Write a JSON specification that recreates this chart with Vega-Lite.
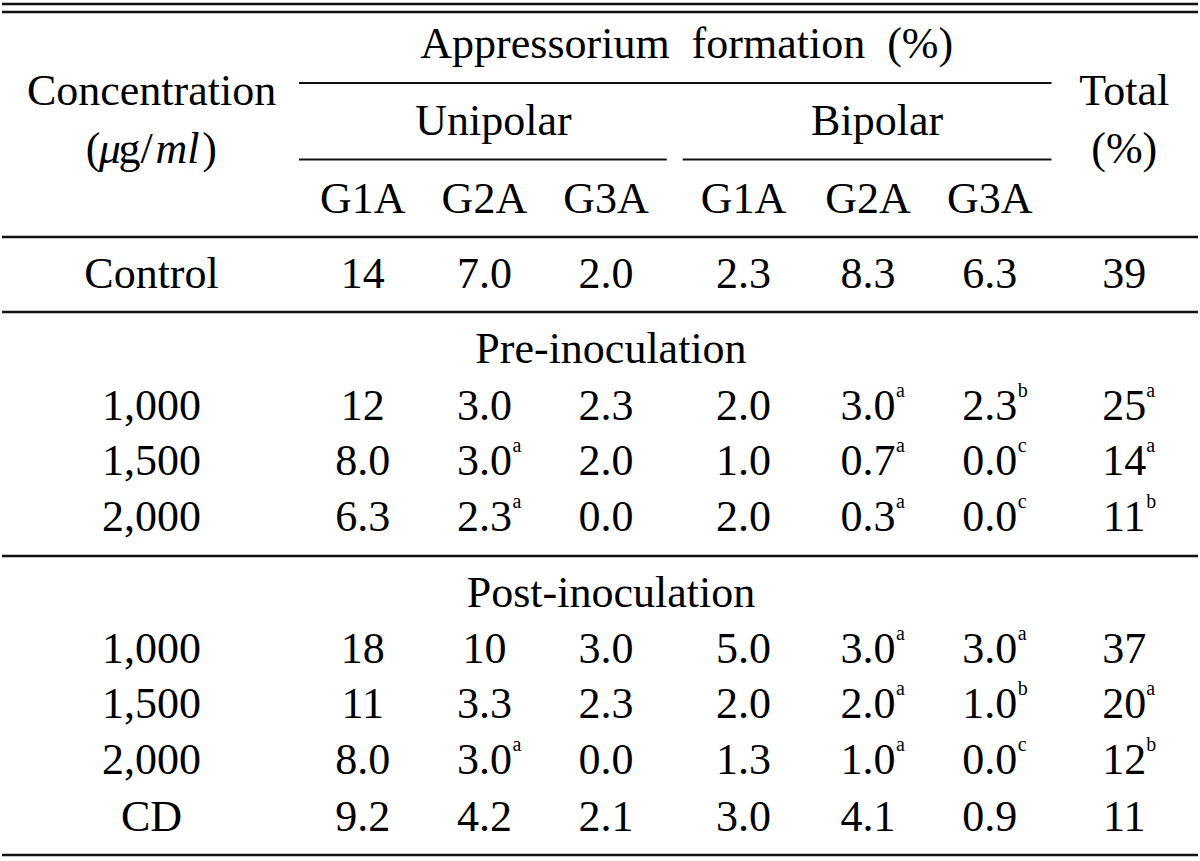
{
  "$schema": "https://vega.github.io/schema/vega-lite/v6.json",
  "width": 1200,
  "height": 861,
  "autosize": {"type": "fit", "contains": "padding"},
  "padding": 0,
  "background": "white",
  "config": {
    "view": {"stroke": null},
    "text": {"font": "Liberation Serif, Times New Roman, Times, serif", "fontSize": 44, "color": "#000", "baseline": "alphabetic"}
  },
  "datasets": {
    "rowpos": [
      {"r": "hdr1", "y": 58},
      {"r": "hdr_conc", "y": 105},
      {"r": "hdr2", "y": 135},
      {"r": "hdr_unit", "y": 163},
      {"r": "hdr3", "y": 213},
      {"r": "ctrl", "y": 288},
      {"r": "pre", "y": 363},
      {"r": "p1", "y": 420},
      {"r": "p2", "y": 475},
      {"r": "p3", "y": 531},
      {"r": "post", "y": 607},
      {"r": "q1", "y": 663},
      {"r": "q2", "y": 718},
      {"r": "q3", "y": 774},
      {"r": "cd", "y": 831}
    ],
    "colpos": [
      {"c": "lab", "x": 150},
      {"c": "U1", "x": 362},
      {"c": "U2", "x": 484},
      {"c": "U3", "x": 606},
      {"c": "B1", "x": 744},
      {"c": "B2", "x": 869},
      {"c": "B3", "x": 991},
      {"c": "T", "x": 1126},
      {"c": "app", "x": 687},
      {"c": "uni", "x": 493},
      {"c": "bip", "x": 878},
      {"c": "sec", "x": 611},
      {"c": "u_open", "x": 84},
      {"c": "u_mu", "x": 97},
      {"c": "u_g", "x": 117},
      {"c": "u_ml", "x": 154},
      {"c": "u_close", "x": 201}
    ],
    "rules": [
      {"kind": "full", "x1": 0, "x2": 1200, "y": 4},
      {"kind": "full", "x1": 0, "x2": 1200, "y": 12},
      {"kind": "part", "x1": 298, "x2": 1053, "y": 83},
      {"kind": "part", "x1": 298, "x2": 667, "y": 159.5},
      {"kind": "part", "x1": 683, "x2": 1053, "y": 159.5},
      {"kind": "full", "x1": 0, "x2": 1200, "y": 237},
      {"kind": "full", "x1": 0, "x2": 1200, "y": 312},
      {"kind": "full", "x1": 0, "x2": 1200, "y": 556},
      {"kind": "full", "x1": 0, "x2": 1200, "y": 855}
    ],
    "units": [
      {"r": "hdr_unit", "c": "u_open", "t": "(", "it": false},
      {"r": "hdr_unit", "c": "u_mu", "t": "μ", "it": true},
      {"r": "hdr_unit", "c": "u_g", "t": "g/", "it": false},
      {"r": "hdr_unit", "c": "u_ml", "t": "ml", "it": true},
      {"r": "hdr_unit", "c": "u_close", "t": ")", "it": false}
    ],
    "cells": [
      {"r": "hdr_conc", "c": "lab", "t": "Concentration", "s": ""},
      {"r": "hdr1", "c": "app", "t": "Appressorium\u2002formation\u2002(%)", "s": ""},
      {"r": "hdr_conc", "c": "T", "t": "Total", "s": ""},
      {"r": "hdr_unit", "c": "T", "t": "(%)", "s": ""},
      {"r": "hdr2", "c": "uni", "t": "Unipolar", "s": ""},
      {"r": "hdr2", "c": "bip", "t": "Bipolar", "s": ""},
      {"r": "hdr3", "c": "U1", "t": "G1A", "s": ""},
      {"r": "hdr3", "c": "U2", "t": "G2A", "s": ""},
      {"r": "hdr3", "c": "U3", "t": "G3A", "s": ""},
      {"r": "hdr3", "c": "B1", "t": "G1A", "s": ""},
      {"r": "hdr3", "c": "B2", "t": "G2A", "s": ""},
      {"r": "hdr3", "c": "B3", "t": "G3A", "s": ""},

      {"r": "ctrl", "c": "lab", "t": "Control", "s": ""},
      {"r": "ctrl", "c": "U1", "t": "14", "s": ""},
      {"r": "ctrl", "c": "U2", "t": "7.0", "s": ""},
      {"r": "ctrl", "c": "U3", "t": "2.0", "s": ""},
      {"r": "ctrl", "c": "B1", "t": "2.3", "s": ""},
      {"r": "ctrl", "c": "B2", "t": "8.3", "s": ""},
      {"r": "ctrl", "c": "B3", "t": "6.3", "s": ""},
      {"r": "ctrl", "c": "T", "t": "39", "s": ""},

      {"r": "pre", "c": "sec", "t": "Pre-inoculation", "s": ""},

      {"r": "p1", "c": "lab", "t": "1,000", "s": ""},
      {"r": "p1", "c": "U1", "t": "12", "s": ""},
      {"r": "p1", "c": "U2", "t": "3.0", "s": ""},
      {"r": "p1", "c": "U3", "t": "2.3", "s": ""},
      {"r": "p1", "c": "B1", "t": "2.0", "s": ""},
      {"r": "p1", "c": "B2", "t": "3.0", "s": "a"},
      {"r": "p1", "c": "B3", "t": "2.3", "s": "b"},
      {"r": "p1", "c": "T", "t": "25", "s": "a"},

      {"r": "p2", "c": "lab", "t": "1,500", "s": ""},
      {"r": "p2", "c": "U1", "t": "8.0", "s": ""},
      {"r": "p2", "c": "U2", "t": "3.0", "s": "a"},
      {"r": "p2", "c": "U3", "t": "2.0", "s": ""},
      {"r": "p2", "c": "B1", "t": "1.0", "s": ""},
      {"r": "p2", "c": "B2", "t": "0.7", "s": "a"},
      {"r": "p2", "c": "B3", "t": "0.0", "s": "c"},
      {"r": "p2", "c": "T", "t": "14", "s": "a"},

      {"r": "p3", "c": "lab", "t": "2,000", "s": ""},
      {"r": "p3", "c": "U1", "t": "6.3", "s": ""},
      {"r": "p3", "c": "U2", "t": "2.3", "s": "a"},
      {"r": "p3", "c": "U3", "t": "0.0", "s": ""},
      {"r": "p3", "c": "B1", "t": "2.0", "s": ""},
      {"r": "p3", "c": "B2", "t": "0.3", "s": "a"},
      {"r": "p3", "c": "B3", "t": "0.0", "s": "c"},
      {"r": "p3", "c": "T", "t": "11", "s": "b"},

      {"r": "post", "c": "sec", "t": "Post-inoculation", "s": ""},

      {"r": "q1", "c": "lab", "t": "1,000", "s": ""},
      {"r": "q1", "c": "U1", "t": "18", "s": ""},
      {"r": "q1", "c": "U2", "t": "10", "s": ""},
      {"r": "q1", "c": "U3", "t": "3.0", "s": ""},
      {"r": "q1", "c": "B1", "t": "5.0", "s": ""},
      {"r": "q1", "c": "B2", "t": "3.0", "s": "a"},
      {"r": "q1", "c": "B3", "t": "3.0", "s": "a"},
      {"r": "q1", "c": "T", "t": "37", "s": ""},

      {"r": "q2", "c": "lab", "t": "1,500", "s": ""},
      {"r": "q2", "c": "U1", "t": "11", "s": ""},
      {"r": "q2", "c": "U2", "t": "3.3", "s": ""},
      {"r": "q2", "c": "U3", "t": "2.3", "s": ""},
      {"r": "q2", "c": "B1", "t": "2.0", "s": ""},
      {"r": "q2", "c": "B2", "t": "2.0", "s": "a"},
      {"r": "q2", "c": "B3", "t": "1.0", "s": "b"},
      {"r": "q2", "c": "T", "t": "20", "s": "a"},

      {"r": "q3", "c": "lab", "t": "2,000", "s": ""},
      {"r": "q3", "c": "U1", "t": "8.0", "s": ""},
      {"r": "q3", "c": "U2", "t": "3.0", "s": "a"},
      {"r": "q3", "c": "U3", "t": "0.0", "s": ""},
      {"r": "q3", "c": "B1", "t": "1.3", "s": ""},
      {"r": "q3", "c": "B2", "t": "1.0", "s": "a"},
      {"r": "q3", "c": "B3", "t": "0.0", "s": "c"},
      {"r": "q3", "c": "T", "t": "12", "s": "b"},

      {"r": "cd", "c": "lab", "t": "CD", "s": ""},
      {"r": "cd", "c": "U1", "t": "9.2", "s": ""},
      {"r": "cd", "c": "U2", "t": "4.2", "s": ""},
      {"r": "cd", "c": "U3", "t": "2.1", "s": ""},
      {"r": "cd", "c": "B1", "t": "3.0", "s": ""},
      {"r": "cd", "c": "B2", "t": "4.1", "s": ""},
      {"r": "cd", "c": "B3", "t": "0.9", "s": ""},
      {"r": "cd", "c": "T", "t": "11", "s": ""}
    ]
  },
  "layer": [
    {
      "data": {"name": "rules"},
      "transform": [{"filter": "datum.kind === 'full'"}],
      "mark": {"type": "rule", "color": "#111", "strokeWidth": 2.6},
      "encoding": {
        "x": {"field": "x1", "type": "quantitative", "scale": {"domain": [0, 1200], "nice": false, "zero": false}, "axis": null},
        "x2": {"field": "x2"},
        "y": {"field": "y", "type": "quantitative", "scale": {"domain": [0, 861], "reverse": true, "nice": false, "zero": false}, "axis": null}
      }
    },
    {
      "data": {"name": "rules"},
      "transform": [{"filter": "datum.kind === 'part'"}],
      "mark": {"type": "rule", "color": "#111", "strokeWidth": 2.2},
      "encoding": {
        "x": {"field": "x1", "type": "quantitative", "axis": null},
        "x2": {"field": "x2"},
        "y": {"field": "y", "type": "quantitative", "axis": null}
      }
    },
    {
      "data": {"name": "cells"},
      "transform": [
        {"lookup": "r", "from": {"data": {"name": "rowpos"}, "key": "r", "fields": ["y"]}},
        {"lookup": "c", "from": {"data": {"name": "colpos"}, "key": "c", "fields": ["x"]}}
      ],
      "mark": {"type": "text", "align": "center"},
      "encoding": {
        "x": {"field": "x", "type": "quantitative", "axis": null},
        "y": {"field": "y", "type": "quantitative", "axis": null},
        "text": {"field": "t"}
      }
    },
    {
      "data": {"name": "units"},
      "transform": [
        {"lookup": "r", "from": {"data": {"name": "rowpos"}, "key": "r", "fields": ["y"]}},
        {"lookup": "c", "from": {"data": {"name": "colpos"}, "key": "c", "fields": ["x"]}},
        {"filter": "!datum.it"}
      ],
      "mark": {"type": "text", "align": "left"},
      "encoding": {
        "x": {"field": "x", "type": "quantitative", "axis": null},
        "y": {"field": "y", "type": "quantitative", "axis": null},
        "text": {"field": "t"}
      }
    },
    {
      "data": {"name": "units"},
      "transform": [
        {"lookup": "r", "from": {"data": {"name": "rowpos"}, "key": "r", "fields": ["y"]}},
        {"lookup": "c", "from": {"data": {"name": "colpos"}, "key": "c", "fields": ["x"]}},
        {"filter": "datum.it"}
      ],
      "mark": {"type": "text", "align": "left", "fontStyle": "italic"},
      "encoding": {
        "x": {"field": "x", "type": "quantitative", "axis": null},
        "y": {"field": "y", "type": "quantitative", "axis": null},
        "text": {"field": "t"}
      }
    },
    {
      "data": {"name": "cells"},
      "transform": [
        {"filter": "datum.s !== '' && datum.c !== 'T'"},
        {"lookup": "r", "from": {"data": {"name": "rowpos"}, "key": "r", "fields": ["y"]}},
        {"lookup": "c", "from": {"data": {"name": "colpos"}, "key": "c", "fields": ["x"]}}
      ],
      "mark": {"type": "text", "align": "left", "fontSize": 20, "dx": 28, "dy": -23},
      "encoding": {
        "x": {"field": "x", "type": "quantitative", "axis": null},
        "y": {"field": "y", "type": "quantitative", "axis": null},
        "text": {"field": "s"}
      }
    },
    {
      "data": {"name": "cells"},
      "transform": [
        {"filter": "datum.s !== '' && datum.c === 'T'"},
        {"lookup": "r", "from": {"data": {"name": "rowpos"}, "key": "r", "fields": ["y"]}},
        {"lookup": "c", "from": {"data": {"name": "colpos"}, "key": "c", "fields": ["x"]}}
      ],
      "mark": {"type": "text", "align": "left", "fontSize": 20, "dx": 22, "dy": -23},
      "encoding": {
        "x": {"field": "x", "type": "quantitative", "axis": null},
        "y": {"field": "y", "type": "quantitative", "axis": null},
        "text": {"field": "s"}
      }
    }
  ]
}
